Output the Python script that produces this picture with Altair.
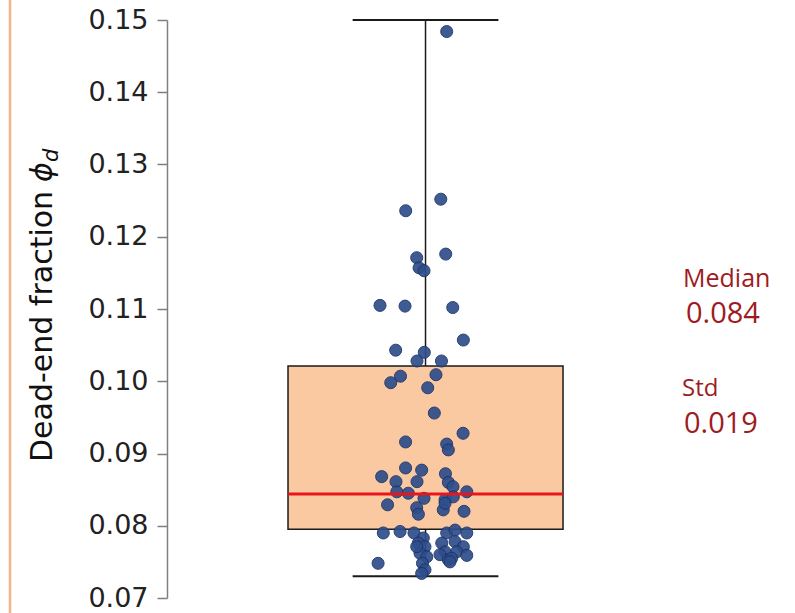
import altair as alt
import pandas as pd

# Dead-end fraction per sample, with the horizontal jitter of each dot
# (jitter in units of the box half-width)
phi_values = [
    0.1484, 0.1252, 0.1236, 0.1176, 0.1171, 0.1157, 0.1153, 0.1105, 0.1104, 0.1102,
    0.1057, 0.1043, 0.1040, 0.1028, 0.1028, 0.1009, 0.1007, 0.0998, 0.0991, 0.0956,
    0.0928, 0.0916, 0.0913, 0.0905, 0.0868, 0.0880, 0.0877, 0.0872, 0.0861, 0.0861,
    0.0860, 0.0854, 0.0847, 0.0847, 0.0845, 0.0838, 0.0836, 0.0840, 0.0829, 0.0825,
    0.0822, 0.0820, 0.0816, 0.0831, 0.0790, 0.0792, 0.0790, 0.0783, 0.0790, 0.0794,
    0.0790, 0.0776, 0.0776, 0.0778, 0.0771, 0.0771, 0.0764, 0.0764, 0.0759, 0.0762,
    0.0757, 0.0760, 0.0753, 0.0755, 0.0748, 0.0748, 0.0739, 0.0734, 0.0750, 0.0771,
]
jitter = [
    0.154, 0.111, -0.144, 0.147, -0.064, -0.047, -0.011, -0.331, -0.149, 0.198,
    0.275, -0.217, -0.009, -0.062, 0.116, 0.076, -0.182, -0.253, 0.016, 0.064,
    0.273, -0.145, 0.154, 0.166, -0.319, -0.145, -0.028, 0.145, -0.062, -0.215,
    0.166, 0.200, 0.300, -0.209, -0.125, -0.011, 0.142, 0.202, -0.276, -0.064,
    0.129, 0.280, -0.052, 0.142, -0.307, -0.185, -0.084, -0.016, 0.154, 0.215,
    0.300, -0.052, 0.118, 0.215, 0.275, -0.004, 0.142, 0.227, 0.300, -0.040,
    0.009, 0.105, 0.166, 0.190, -0.345, -0.022, -0.004, -0.028, 0.178, -0.064,
]

# Box summary
q1 = 0.0795
q3 = 0.1021
median = 0.0844
whisker_low = 0.0730
whisker_high = 0.15
std = 0.019

y_ticks = [0.07, 0.08, 0.09, 0.10, 0.11, 0.12, 0.13, 0.14, 0.15]

points = pd.DataFrame({"jitter": jitter, "phi": phi_values})
stats = pd.DataFrame({
    "q1": [q1], "q3": [q3], "median": [median],
    "lo": [whisker_low], "hi": [whisker_high], "std": [std],
    "left": [-1.0], "right": [1.0], "mid": [0.0],
    "cap_l": [-0.53], "cap_r": [0.53],
})

x_scale = alt.Scale(domain=[-1.88, 2.556])
y_scale = alt.Scale(domain=[0.07, 0.15], nice=False, zero=False)

y_axis = alt.Axis(
    values=y_ticks, format=".2f", title=None, grid=False,
    domainColor="#7f7f7f", domainWidth=1.5,
    tickColor="#7f7f7f", tickWidth=1.5, tickSize=10,
    labelFont="DejaVu Sans", labelFontSize=27, labelColor="#222222",
    labelPadding=9,
)

base = alt.Chart(stats)

box = base.mark_bar(fill="#FAC9A2", stroke="#1a1a1a", strokeWidth=1.5).encode(
    x=alt.X("left:Q", scale=x_scale, axis=None),
    x2="right:Q",
    y=alt.Y("q1:Q", scale=y_scale, axis=y_axis),
    y2="q3:Q",
)

whisker_up = base.mark_rule(color="#1a1a1a", strokeWidth=1.5).encode(
    x=alt.X("mid:Q", scale=x_scale), y=alt.Y("q3:Q", scale=y_scale), y2="hi:Q"
)
whisker_down = base.mark_rule(color="#1a1a1a", strokeWidth=1.5).encode(
    x=alt.X("mid:Q", scale=x_scale), y=alt.Y("lo:Q", scale=y_scale), y2="q1:Q"
)
cap_top = base.mark_rule(color="#1a1a1a", strokeWidth=2).encode(
    x=alt.X("cap_l:Q", scale=x_scale), x2="cap_r:Q", y=alt.Y("hi:Q", scale=y_scale)
)
cap_bottom = base.mark_rule(color="#1a1a1a", strokeWidth=2).encode(
    x=alt.X("cap_l:Q", scale=x_scale), x2="cap_r:Q", y=alt.Y("lo:Q", scale=y_scale)
)

dots = alt.Chart(points).mark_circle(
    size=145, color="#2E4E8C", opacity=0.92, stroke="#1C3366", strokeWidth=1
).encode(
    x=alt.X("jitter:Q", scale=x_scale),
    y=alt.Y("phi:Q", scale=y_scale),
)

median_line = base.mark_rule(color="#E8161C", strokeWidth=3).encode(
    x=alt.X("left:Q", scale=x_scale), x2="right:Q", y=alt.Y("median:Q", scale=y_scale)
)

# Annotations on the right
red_text = dict(font="Open Sans", color="#9E1B22", align="left", baseline="alphabetic")
median_title = base.mark_text(text="Median", fontSize=25, **red_text).encode(
    x=alt.value(516), y=alt.value(267)
)
median_value = base.mark_text(fontSize=29, **red_text).encode(
    x=alt.value(519), y=alt.value(303),
    text=alt.Text("median:Q", format=".3f"),
)
std_title = base.mark_text(text="Std", fontSize=24, **red_text).encode(
    x=alt.value(515), y=alt.value(376)
)
std_value = base.mark_text(fontSize=29, **red_text).encode(
    x=alt.value(517), y=alt.value(413),
    text=alt.Text("std:Q", format=".3f"),
)

# Rotated y-axis title: "Dead-end fraction" followed by an italic phi with subscript d
title_main = base.mark_text(
    text="Dead-end fraction", font="DejaVu Sans", fontSize=30, angle=270,
    align="left", baseline="alphabetic", color="#111111",
).encode(x=alt.value(-115), y=alt.value(442))
title_phi = base.mark_text(
    text="ϕ", font="DejaVu Sans", fontSize=30, fontStyle="italic", angle=270,
    align="left", baseline="alphabetic", color="#111111",
).encode(x=alt.value(-115), y=alt.value(162))
title_sub = base.mark_text(
    text="d", font="DejaVu Sans", fontSize=21, fontStyle="italic", angle=270,
    align="left", baseline="alphabetic", color="#111111",
).encode(x=alt.value(-109), y=alt.value(142))

# Thin orange frame line at the left edge
left_edge = base.mark_rule(color="#F5B488", strokeWidth=2.5).encode(
    x=alt.value(-157), y=alt.value(-20), y2=alt.value(593)
)

chart = alt.layer(
    left_edge, box, whisker_up, whisker_down, cap_top, cap_bottom, dots, median_line,
    median_title, median_value, std_title, std_value,
    title_main, title_phi, title_sub,
).properties(
    width=610, height=578,
    autosize=alt.AutoSizeParams(type="none"),
    padding={"left": 167, "top": 20, "right": 18, "bottom": 15},
    background="white",
).configure_view(stroke=None)

chart.save("out.html", embed_options={"renderer": "svg", "actions": False})
